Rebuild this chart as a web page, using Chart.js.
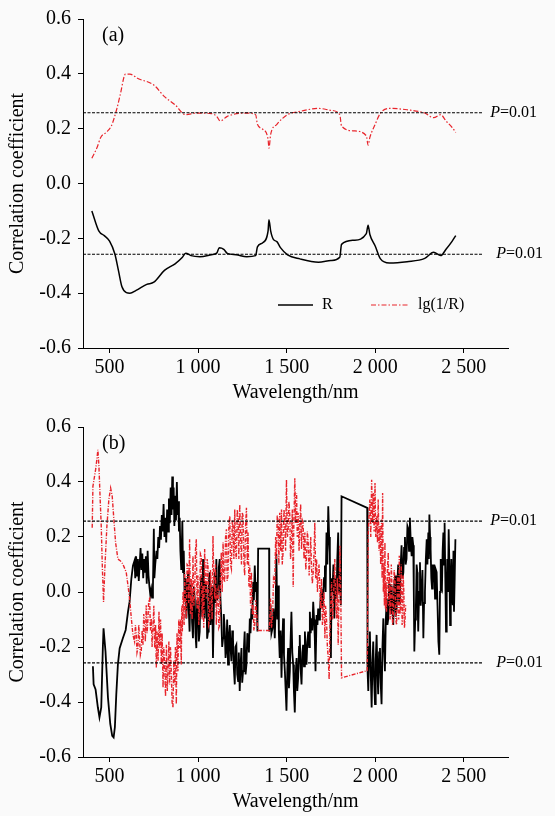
<!DOCTYPE html>
<html>
<head>
<meta charset="utf-8">
<script src="https://cdn.jsdelivr.net/npm/chart.js@4.4.1/dist/chart.umd.min.js"></script>
<style>
  html, body { margin: 0; padding: 0; background: #fafafa; }
  canvas { display: block; }
</style>
</head>
<body>
<canvas id="chartA" width="555" height="408"></canvas>
<canvas id="chartB" width="555" height="408"></canvas>
<script>
// Correlation coefficient vs wavelength - panel (a) and panel (b)

// axis ticks
const xTickValues = [500, 1000, 1500, 2000, 2500];
const xTickLabels = ['500', '1 000', '1 500', '2 000', '2 500'];
const yTickValues = [-0.6, -0.4, -0.2, 0, 0.2, 0.4, 0.6];
const yTickLabels = ['-0.6', '-0.4', '-0.2', '0.0', '0.2', '0.4', '0.6'];

// significance level lines
const pLevel = 0.258;
const pLineWl = [350, 2610];

// panel (a): R
const aRWl = [400, 440, 470, 500, 530, 550, 570, 595, 615, 650,
  710, 750, 810, 870, 910, 930, 960, 1010, 1075, 1105,
  1120, 1145, 1165, 1215, 1275, 1325, 1335, 1365, 1395, 1400,
  1410, 1425, 1445, 1465, 1505, 1575, 1680, 1750, 1800, 1810,
  1880, 1950, 1960, 1970, 2000, 2030, 2080, 2180, 2280, 2330,
  2370, 2400, 2435, 2455];
const aR = [-0.10, -0.174, -0.19, -0.21, -0.257, -0.317, -0.377, -0.398, -0.40, -0.39,
  -0.368, -0.36, -0.317, -0.293, -0.27, -0.254, -0.263, -0.267, -0.26, -0.254,
  -0.234, -0.24, -0.255, -0.26, -0.267, -0.263, -0.231, -0.216, -0.174, -0.132,
  -0.174, -0.204, -0.212, -0.234, -0.26, -0.275, -0.287, -0.281, -0.269, -0.222,
  -0.207, -0.183, -0.152, -0.186, -0.228, -0.275, -0.29, -0.285, -0.273, -0.251,
  -0.263, -0.24, -0.21, -0.19];

// panel (a): lg(1/R)
const aLgWl = [400, 430, 450, 480, 510, 540, 560, 590, 615, 660,
  750, 810, 870, 930, 990, 1075, 1105, 1125, 1165, 1275,
  1325, 1335, 1365, 1395, 1400, 1410, 1445, 1505, 1575, 1680,
  1750, 1800, 1810, 1880, 1950, 1960, 1970, 2000, 2030, 2080,
  2180, 2280, 2330, 2370, 2400, 2435, 2455];
const aLg = [0.092, 0.132, 0.168, 0.186, 0.21, 0.27, 0.323, 0.399, 0.399, 0.383,
  0.359, 0.317, 0.287, 0.251, 0.257, 0.255, 0.245, 0.228, 0.245, 0.257,
  0.251, 0.216, 0.198, 0.162, 0.129, 0.18, 0.216, 0.251, 0.263, 0.274,
  0.267, 0.251, 0.21, 0.192, 0.174, 0.14, 0.168, 0.216, 0.257, 0.274,
  0.269, 0.257, 0.24, 0.251, 0.228, 0.204, 0.186];

// panel (b): R
const bRWl = [406, 410, 421, 434, 443, 453, 462, 466, 477, 491,
  504, 515, 523, 530, 538, 547, 557, 575, 591, 604,
  613, 623, 632, 641, 645, 650, 655, 660, 665, 670,
  675, 680, 685, 690, 695, 700, 705, 710, 715, 720,
  725, 730, 735, 740, 745, 750, 753, 758, 765, 770,
  775, 780, 785, 790, 795, 800, 805, 810, 815, 820,
  825, 830, 835, 840, 845, 850, 854, 858, 862, 866,
  870, 875, 880, 884, 888, 892, 896, 900, 905, 911,
  915, 919, 924, 929, 934, 938, 943, 947, 952, 957,
  962, 966, 971, 976, 981, 985, 990, 994, 999, 1004,
  1009, 1013, 1018, 1023, 1028, 1032, 1037, 1042, 1047, 1051,
  1056, 1060, 1065, 1070, 1075, 1079, 1084, 1089, 1094, 1098,
  1103, 1108, 1113, 1117, 1122, 1126, 1131, 1136, 1141, 1145,
  1150, 1155, 1160, 1164, 1169, 1174, 1179, 1183, 1188, 1193,
  1197, 1202, 1207, 1211, 1216, 1221, 1226, 1230, 1235, 1240,
  1245, 1249, 1254, 1259, 1263, 1268, 1273, 1278, 1282, 1287,
  1292, 1296, 1301, 1306, 1311, 1315, 1320, 1325, 1329, 1335,
  1339, 1401, 1402, 1409, 1414, 1420, 1426, 1433, 1438, 1442,
  1447, 1452, 1456, 1461, 1466, 1471, 1475, 1480, 1485, 1490,
  1494, 1499, 1504, 1508, 1513, 1518, 1522, 1527, 1532, 1537,
  1541, 1546, 1551, 1556, 1560, 1565, 1570, 1574, 1579, 1584,
  1589, 1593, 1598, 1603, 1608, 1612, 1617, 1622, 1627, 1631,
  1636, 1640, 1645, 1650, 1655, 1659, 1663, 1669, 1674, 1678,
  1683, 1688, 1692, 1697, 1702, 1706, 1711, 1716, 1720, 1725,
  1730, 1735, 1740, 1744, 1750, 1754, 1759, 1764, 1769, 1775,
  1782, 1786, 1791, 1796, 1801, 1806, 1810, 1955, 1957, 1961,
  1966, 1970, 1975, 1980, 1985, 1989, 1994, 1999, 2003, 2008,
  2013, 2017, 2022, 2027, 2031, 2036, 2041, 2046, 2050, 2055,
  2060, 2065, 2069, 2074, 2079, 2083, 2088, 2093, 2097, 2102,
  2107, 2112, 2116, 2121, 2126, 2130, 2135, 2140, 2144, 2149,
  2154, 2159, 2163, 2168, 2172, 2177, 2182, 2187, 2191, 2196,
  2201, 2206, 2210, 2215, 2218, 2221, 2226, 2230, 2234, 2238,
  2240, 2243, 2248, 2253, 2257, 2262, 2267, 2272, 2276, 2281,
  2286, 2291, 2295, 2300, 2303, 2306, 2310, 2313, 2317, 2321,
  2325, 2328, 2333, 2338, 2343, 2347, 2352, 2357, 2362, 2366,
  2370, 2373, 2377, 2381, 2385, 2389, 2392, 2396, 2400, 2404,
  2407, 2411, 2415, 2419, 2423, 2427, 2430, 2434, 2438, 2442,
  2445, 2449, 2453];
const bR = [-0.270, -0.336, -0.354, -0.420, -0.456, -0.420, -0.204, -0.132, -0.216, -0.384,
  -0.480, -0.523, -0.529, -0.492, -0.372, -0.264, -0.204, -0.168, -0.138, -0.072,
  -0.036, 0.048, 0.096, 0.114, 0.050, 0.130, 0.060, 0.120, 0.040, 0.100,
  0.160, 0.080, 0.140, 0.050, 0.120, 0.070, 0.130, 0.030, 0.150, 0.060,
  0.020, -0.010, 0.010, -0.020, 0.020, 0.230, 0.050, 0.100, 0.150, 0.120,
  0.200, 0.160, 0.240, 0.190, 0.280, 0.220, 0.320, 0.200, 0.270, 0.180,
  0.300, 0.220, 0.340, 0.250, 0.380, 0.280, 0.420, 0.300, 0.380, 0.240,
  0.350, 0.260, 0.400, 0.280, 0.330, 0.220, 0.270, 0.150, 0.080, 0.258,
  0.072, 0.150, -0.024, 0.050, -0.096, -0.020, 0.072, -0.060, -0.144, 0.030,
  0.012, -0.110, -0.168, 0.020, -0.024, -0.150, -0.204, -0.030, -0.048, -0.180,
  -0.144, 0.000, 0.060, -0.090, 0.120, -0.050, -0.096, 0.040, 0.012, -0.170,
  -0.144, 0.030, 0.072, -0.120, -0.060, 0.020, -0.240, -0.050, 0.072, -0.040,
  0.120, -0.030, 0.012, 0.090, 0.120, -0.020, -0.096, -0.200, -0.168, -0.080,
  -0.132, -0.240, -0.204, -0.100, -0.264, -0.160, -0.120, -0.200, -0.252, -0.140,
  -0.168, -0.280, -0.336, -0.200, -0.192, -0.300, -0.324, -0.220, -0.360, -0.260,
  -0.204, -0.330, -0.288, -0.200, -0.144, -0.300, -0.264, -0.150, -0.168, -0.220,
  -0.096, -0.150, -0.060, -0.100, 0.036, -0.030, 0.096, 0.000, 0.036, -0.144,
  0.158, 0.158, -0.144, -0.048, -0.150, -0.132, -0.060, -0.168, -0.050, 0.138,
  -0.100, 0.024, -0.150, -0.240, -0.140, -0.312, -0.200, -0.096, -0.230, -0.288,
  -0.350, -0.432, -0.280, -0.204, -0.350, -0.288, -0.180, -0.072, -0.220, -0.264,
  -0.360, -0.438, -0.300, -0.240, -0.360, -0.312, -0.200, -0.156, -0.280, -0.336,
  -0.220, -0.192, -0.270, -0.144, -0.220, -0.264, -0.180, -0.144, -0.200, -0.072,
  -0.150, -0.096, -0.140, -0.036, -0.100, -0.168, -0.288, -0.084, -0.120, -0.060,
  -0.100, -0.072, -0.020, 0.012, -0.060, -0.024, 0.050, 0.096, 0.000, 0.216,
  0.100, 0.312, 0.200, 0.144, -0.240, 0.050, 0.000, 0.100, -0.096, 0.050,
  -0.024, 0.120, 0.216, 0.000, 0.072, -0.048, 0.348, 0.306, -0.288, -0.360,
  -0.200, -0.144, -0.300, -0.420, -0.250, -0.180, -0.320, -0.408, -0.250, -0.156,
  -0.300, -0.372, -0.220, -0.204, -0.330, -0.408, -0.200, -0.096, -0.200, -0.288,
  -0.100, -0.024, -0.120, -0.096, 0.030, 0.000, -0.080, 0.024, -0.070, -0.120,
  0.020, 0.060, -0.090, -0.060, 0.050, 0.100, -0.040, 0.000, 0.100, 0.170,
  0.050, 0.070, 0.160, 0.200, 0.100, 0.120, 0.240, 0.230, 0.150, 0.270,
  0.180, 0.130, 0.200, 0.170, 0.000, -0.216, -0.100, -0.048, 0.100, 0.072,
  -0.050, -0.144, 0.000, 0.108, -0.050, 0.000, 0.080, -0.168, -0.040, 0.000,
  0.120, 0.192, 0.100, 0.216, 0.120, 0.282, 0.200, 0.156, 0.050, 0.012,
  0.100, 0.036, 0.100, -0.024, 0.080, 0.072, -0.050, -0.180, -0.228, 0.000,
  0.120, 0.020, 0.012, 0.150, 0.216, 0.100, 0.252, 0.050, -0.144, 0.000,
  0.120, 0.000, 0.228, 0.100, -0.120, 0.000, 0.120, 0.000, -0.048, 0.150,
  -0.072, 0.050, 0.192];

// panel (b): lg(1/R)
const bLgWl = [402, 406, 415, 421, 428, 434, 440, 447, 453, 459,
  466, 474, 485, 496, 506, 515, 523, 534, 547, 560,
  575, 594, 604, 613, 623, 632, 641, 646, 651, 655,
  660, 665, 670, 674, 679, 684, 689, 693, 698, 702,
  707, 712, 717, 721, 726, 731, 736, 740, 745, 750,
  755, 760, 764, 768, 774, 779, 783, 788, 792, 797,
  802, 806, 811, 816, 821, 826, 830, 835, 839, 844,
  849, 853, 858, 863, 868, 872, 877, 881, 886, 891,
  896, 900, 905, 908, 911, 915, 918, 921, 924, 929,
  934, 938, 943, 947, 952, 957, 962, 966, 971, 976,
  981, 985, 990, 994, 999, 1004, 1009, 1013, 1018, 1023,
  1028, 1032, 1037, 1042, 1047, 1051, 1056, 1060, 1065, 1070,
  1075, 1079, 1084, 1089, 1094, 1098, 1103, 1108, 1113, 1117,
  1122, 1126, 1131, 1136, 1141, 1145, 1150, 1155, 1160, 1164,
  1169, 1174, 1179, 1183, 1188, 1193, 1197, 1202, 1207, 1211,
  1216, 1221, 1226, 1230, 1235, 1240, 1245, 1249, 1254, 1259,
  1263, 1268, 1273, 1278, 1282, 1287, 1292, 1296, 1301, 1306,
  1311, 1315, 1320, 1325, 1329, 1339, 1401, 1405, 1409, 1414,
  1420, 1426, 1433, 1438, 1442, 1447, 1452, 1456, 1461, 1466,
  1471, 1475, 1480, 1485, 1490, 1494, 1499, 1504, 1508, 1513,
  1518, 1522, 1527, 1532, 1537, 1540, 1546, 1551, 1556, 1560,
  1565, 1570, 1574, 1579, 1584, 1589, 1593, 1598, 1603, 1608,
  1612, 1617, 1622, 1627, 1631, 1636, 1640, 1645, 1650, 1655,
  1659, 1664, 1669, 1674, 1678, 1683, 1688, 1692, 1697, 1702,
  1706, 1711, 1716, 1720, 1725, 1730, 1735, 1740, 1744, 1749,
  1754, 1759, 1763, 1768, 1772, 1777, 1782, 1786, 1791, 1796,
  1801, 1806, 1810, 1955, 1961, 1965, 1970, 1975, 1980, 1985,
  1989, 1994, 1999, 2003, 2008, 2013, 2017, 2022, 2027, 2031,
  2036, 2039, 2042, 2046, 2049, 2052, 2055, 2058, 2061, 2064,
  2069, 2074, 2077, 2080, 2084, 2087, 2091, 2095, 2098, 2102,
  2107, 2112, 2116, 2121, 2126, 2130, 2133, 2136, 2140, 2144,
  2147, 2149, 2152, 2155, 2158, 2162, 2165, 2168, 2172];
const bLg = [0.234, 0.384, 0.420, 0.444, 0.480, 0.517, 0.456, 0.336, 0.240, 0.096,
  -0.036, 0.096, 0.240, 0.336, 0.378, 0.348, 0.276, 0.180, 0.120, 0.114,
  0.102, 0.072, 0.024, -0.024, -0.096, -0.156, -0.180, -0.120, -0.156, -0.220,
  -0.204, -0.120, -0.180, -0.230, -0.216, -0.140, -0.192, -0.080, -0.120, -0.180,
  -0.048, -0.150, -0.096, -0.030, -0.024, -0.140, -0.096, -0.200, -0.132, -0.050,
  -0.204, -0.120, -0.276, -0.144, -0.250, -0.072, -0.204, -0.100, -0.264, -0.150,
  -0.348, -0.200, -0.264, -0.380, -0.192, -0.360, -0.288, -0.180, -0.336, -0.200,
  -0.300, -0.400, -0.420, -0.250, -0.336, -0.200, -0.408, -0.150, -0.288, -0.100,
  -0.204, -0.100, -0.264, -0.050, -0.144, 0.000, -0.024, -0.120, 0.072, -0.060,
  -0.096, 0.100, 0.096, -0.040, 0.192, -0.080, 0.048, -0.100, 0.132, -0.050,
  0.000, 0.150, 0.192, -0.060, 0.060, -0.120, -0.024, 0.140, 0.132, -0.100,
  0.024, -0.130, 0.156, 0.020, -0.024, 0.120, 0.096, -0.120, -0.108, 0.080,
  0.000, -0.100, 0.204, 0.050, -0.024, 0.100, -0.120, 0.000, 0.012, -0.130,
  -0.120, 0.050, 0.144, 0.000, 0.180, 0.050, 0.036, 0.200, 0.228, 0.040,
  0.060, 0.250, 0.276, 0.100, 0.084, 0.260, 0.240, 0.120, 0.300, 0.150,
  0.120, 0.300, 0.264, 0.120, 0.318, 0.200, 0.100, 0.290, 0.276, 0.100,
  0.060, 0.240, 0.306, 0.100, 0.216, 0.020, 0.096, -0.050, 0.072, -0.080,
  -0.048, -0.140, -0.120, -0.030, -0.072, -0.140, -0.140, -0.100, -0.024, -0.130,
  -0.096, 0.050, 0.036, 0.200, 0.120, 0.280, 0.252, 0.100, 0.288, 0.150,
  0.300, 0.100, 0.144, 0.300, 0.252, 0.150, 0.408, 0.200, 0.216, 0.330,
  0.276, 0.120, 0.180, 0.300, 0.018, 0.216, 0.414, 0.250, 0.360, 0.200,
  0.288, 0.150, 0.228, 0.320, 0.156, 0.260, 0.252, 0.120, 0.216, 0.080,
  0.120, 0.220, 0.180, 0.060, 0.120, 0.200, 0.096, 0.030, 0.072, 0.150,
  0.252, 0.050, 0.120, 0.000, 0.060, 0.100, 0.000, -0.060, 0.048, -0.120,
  -0.084, 0.000, -0.168, -0.050, -0.096, -0.200, -0.240, -0.318, -0.144, -0.050,
  0.036, -0.100, -0.060, 0.050, 0.120, -0.050, -0.096, 0.050, -0.192, 0.000,
  0.168, -0.024, -0.312, -0.286, 0.216, 0.280, 0.336, 0.200, 0.408, 0.250,
  0.360, 0.220, 0.396, 0.200, 0.276, 0.180, 0.336, 0.150, 0.240, 0.100,
  0.264, 0.050, 0.360, 0.000, 0.096, -0.050, 0.180, -0.060, 0.036, -0.072,
  0.080, 0.144, -0.050, 0.072, -0.100, -0.048, 0.100, 0.012, -0.120, -0.096,
  0.080, 0.048, -0.100, -0.120, 0.060, 0.024, -0.100, 0.132, -0.080, -0.048,
  0.100, 0.048, -0.120, -0.096, 0.060, 0.000, -0.130, -0.108, -0.048];

const serif = '"Liberation Serif", "Times New Roman", serif';
const red = '#e8242b';
const redDash = [5, 2, 1.5, 2];

Chart.defaults.font.family = serif;
Chart.defaults.color = '#000';

const series = (xs, ys) => xs.map((x, i) => ({ x: x, y: ys[i] }));

const pLines = () => [pLevel, -pLevel].map(v => ({
    data: series(pLineWl, pLineWl.map(() => v)),
    borderColor: '#000',
    borderWidth: 1.2,
    borderDash: [3, 1.5],
    pointRadius: 0,
    order: 0
}));

// panel letter, P labels and (for panel a) the legend
const annotate = {
    id: 'annotate',
    afterDatasetsDraw(chart, args, opts) {
        const { ctx, chartArea } = chart;
        const xs = chart.scales.x, ys = chart.scales.y;
        ctx.save();
        ctx.fillStyle = '#000';
        ctx.textBaseline = 'middle';
        ctx.textAlign = 'left';
        ctx.font = '20px ' + serif;
        ctx.fillText(opts.panel, chartArea.left + 19, chartArea.top + 17);

        // P=0.01 labels at the end of the dotted lines
        const xEnd = xs.getPixelForValue(pLineWl[1]);
        [[pLevel, 7], [-pLevel, 13]].forEach(([v, dx]) => {
            const py = ys.getPixelForValue(v);
            ctx.font = 'italic 16px ' + serif;
            ctx.fillText('P', xEnd + dx, py);
            const w = ctx.measureText('P').width;
            ctx.font = '16px ' + serif;
            ctx.fillText('=0.01', xEnd + dx + w, py);
        });

        if (opts.legend) {
            const ly = chartArea.top + 286;
            ctx.lineWidth = 1.5;
            ctx.strokeStyle = '#000';
            ctx.beginPath();
            ctx.moveTo(chartArea.left + 195, ly);
            ctx.lineTo(chartArea.left + 230, ly);
            ctx.stroke();
            ctx.lineWidth = 1.2;
            ctx.strokeStyle = red;
            ctx.setLineDash(redDash);
            ctx.beginPath();
            ctx.moveTo(chartArea.left + 288, ly);
            ctx.lineTo(chartArea.left + 325, ly);
            ctx.stroke();
            ctx.setLineDash([]);
            ctx.font = '16px ' + serif;
            ctx.fillText('R', chartArea.left + 239, ly);
            ctx.fillText('lg(1/R)', chartArea.left + 335, ly);
        }
        ctx.restore();
    }
};

const makeScales = (xHeight, titlePad) => ({
    x: {
        type: 'linear',
        min: 350,
        max: 2750,
        afterBuildTicks: s => { s.ticks = xTickValues.map(v => ({ value: v })); },
        afterFit: s => { s.height = xHeight; },
        ticks: {
            callback: (v, i) => xTickLabels[i],
            font: { size: 20 },
            color: '#000',
            padding: 3,
            maxRotation: 0,
            autoSkip: false
        },
        grid: { drawOnChartArea: false, tickLength: 5, color: '#000' },
        border: { color: '#000', width: 1 },
        title: {
            display: true,
            text: 'Wavelength/nm',
            font: { size: 20 },
            color: '#000',
            padding: { top: 0, bottom: titlePad }
        }
    },
    y: {
        min: -0.6,
        max: 0.6,
        afterBuildTicks: s => { s.ticks = yTickValues.map(v => ({ value: v })); },
        afterFit: s => { s.width = 83; },
        ticks: {
            callback: (v, i) => yTickLabels[i],
            font: { size: 20 },
            color: '#000',
            padding: 7,
            autoSkip: false
        },
        grid: { drawOnChartArea: false, tickLength: 5, color: '#000' },
        border: { color: '#000', width: 1 },
        title: {
            display: true,
            text: 'Correlation coefficient',
            font: { size: 20 },
            color: '#000',
            padding: { top: 6, bottom: 0 }
        }
    }
});

const makeChart = (id, datasets, topPad, xHeight, titlePad, extra) => new Chart(document.getElementById(id), {
    type: 'line',
    data: { datasets: datasets },
    options: {
        responsive: false,
        animation: false,
        events: [],
        layout: { padding: { left: 0, right: 47, top: topPad, bottom: 0 } },
        scales: makeScales(xHeight, titlePad),
        plugins: {
            legend: { display: false },
            tooltip: { enabled: false },
            annotate: extra
        }
    },
    plugins: [annotate]
});

// panel (a)
makeChart('chartA', [
    ...pLines(),
    { data: series(aRWl, aR), borderColor: '#000', borderWidth: 1.5, pointRadius: 0, cubicInterpolationMode: 'monotone', order: 2 },
    { data: series(aLgWl, aLg), borderColor: red, borderWidth: 1.2, borderDash: redDash, pointRadius: 0, cubicInterpolationMode: 'monotone', order: 1 }
], 15, 60, 3, { panel: '(a)', legend: true });

// panel (b)
makeChart('chartB', [
    ...pLines(),
    { data: series(bRWl, bR), borderColor: '#000', borderWidth: 1.8, pointRadius: 0, order: 2 },
    { data: series(bLgWl, bLg), borderColor: red, borderWidth: 1.4, borderDash: [4, 1.5, 1, 1.5], pointRadius: 0, order: 1 }
], 16, 59, 2, { panel: '(b)', legend: false });
</script>
</body>
</html>
